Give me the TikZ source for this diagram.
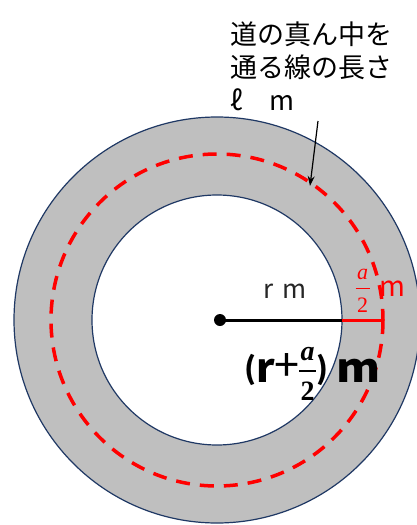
\documentclass[tikz,border=0pt]{standalone}
\usepackage{fontspec}
\usepackage{graphicx}
\setmainfont{Noto Sans CJK JP}
\newfontfamily\jp{Noto Sans CJK JP}
\newfontfamily\mathlike{Liberation Serif}
\definecolor{roadgray}{HTML}{BFBFBF}
\definecolor{edgenavy}{HTML}{1F3864}
\definecolor{pured}{HTML}{FF0000}
\usetikzlibrary{arrows.meta}
% #1 numerator, #2 denominator, #3 gap above bar, #4 gap below bar, #5 bar thickness
\newcommand{\stackfrac}[5]{\vbox{\halign{\hfil\kern1.5pt##\kern1.5pt\hfil\cr#1\cr
  \noalign{\kern#3\hrule height #5\kern#4}#2\cr}}}
\newcommand{\myhalf}{{\mathlike\fontsize{22}{22}\selectfont
  \stackfrac{\itshape a}{2}{8pt}{9pt}{1.3pt}}}
\newcommand{\myhalfbold}{\raisebox{-18pt}{\mathlike\bfseries\fontsize{28}{28}\selectfont
  \stackfrac{\itshape a}{2}{9pt}{9pt}{2.4pt}}}
\newcommand{\myparen}[1]{\raisebox{3pt}{\fontsize{30}{30}\selectfont #1}}
\newcommand{\mybiglabel}{\makebox[15pt]{\myparen{(}}\makebox[16pt]{r}%
  \makebox[25pt]{\raisebox{1pt}{\scalebox{1.5}{\mdseries\fontsize{30}{30}\selectfont+}}}\makebox[17pt]{\myhalfbold}%
  \makebox[12pt]{\myparen{)}}\makebox[11pt]{}\makebox[39pt]{\scalebox{1.12}[1]{m}}}
\begin{document}
\begin{tikzpicture}[x=1pt,y=-1pt,
  ringedge/.style={draw=edgenavy,line width=1.2pt},
  midline/.style={draw=pured,line width=3.5pt,dash pattern=on 14pt off 10pt},
  lbl/.style={inner sep=0pt,outer sep=0pt}]
\useasboundingbox (0,0) rectangle (417,525);
\clip (0,0) rectangle (417,525);
\coordinate (C) at (217,320);
\coordinate (O) at (220,320);
\fill[white] (0,0) rectangle (417,525);
\filldraw[fill=roadgray,ringedge] (C) circle (203);
\filldraw[fill=white,ringedge] (C) circle (125);
\draw[midline] (C) circle (166);
\coordinate (innerE) at (342,320);
\coordinate (midE) at (384,320);
\draw[line width=3pt] (O) -- (innerE);
\draw[pured,line width=3pt] (innerE) -- (midE);
\node[circle,fill=black,minimum size=12pt,inner sep=0pt] (dot) at (O) {};
% top label
\node[lbl,anchor=north west,align=left,font=\jp\fontsize{27}{33}\selectfont] (title) at (230,22)
  {道の真ん中を\\通る線の長さ\\ℓ　m};
\coordinate (arrS) at (318,121);
\coordinate (arrT) at (310,186);
\draw[-{Stealth[length=10pt,width=7pt]},line width=1.2pt] (arrS) -- (arrT);
% r m
\node[lbl,font=\jp\fontsize{26}{28}\selectfont,text=black!85] (rm) at (285,291) {r\,\,m};
% a/2 m
\node[lbl,text=pured] (half) at (362.5,291) {\myhalf};
\node[lbl,text=pured,font=\jp\fontsize{28}{30}\selectfont] (halfm) at (392,289) {m};
% (r + a/2) m
\node[lbl,font=\jp\bfseries\fontsize{40}{44}\selectfont,anchor=base west] (big) at (243,382) {\mybiglabel};
\end{tikzpicture}
\end{document}
